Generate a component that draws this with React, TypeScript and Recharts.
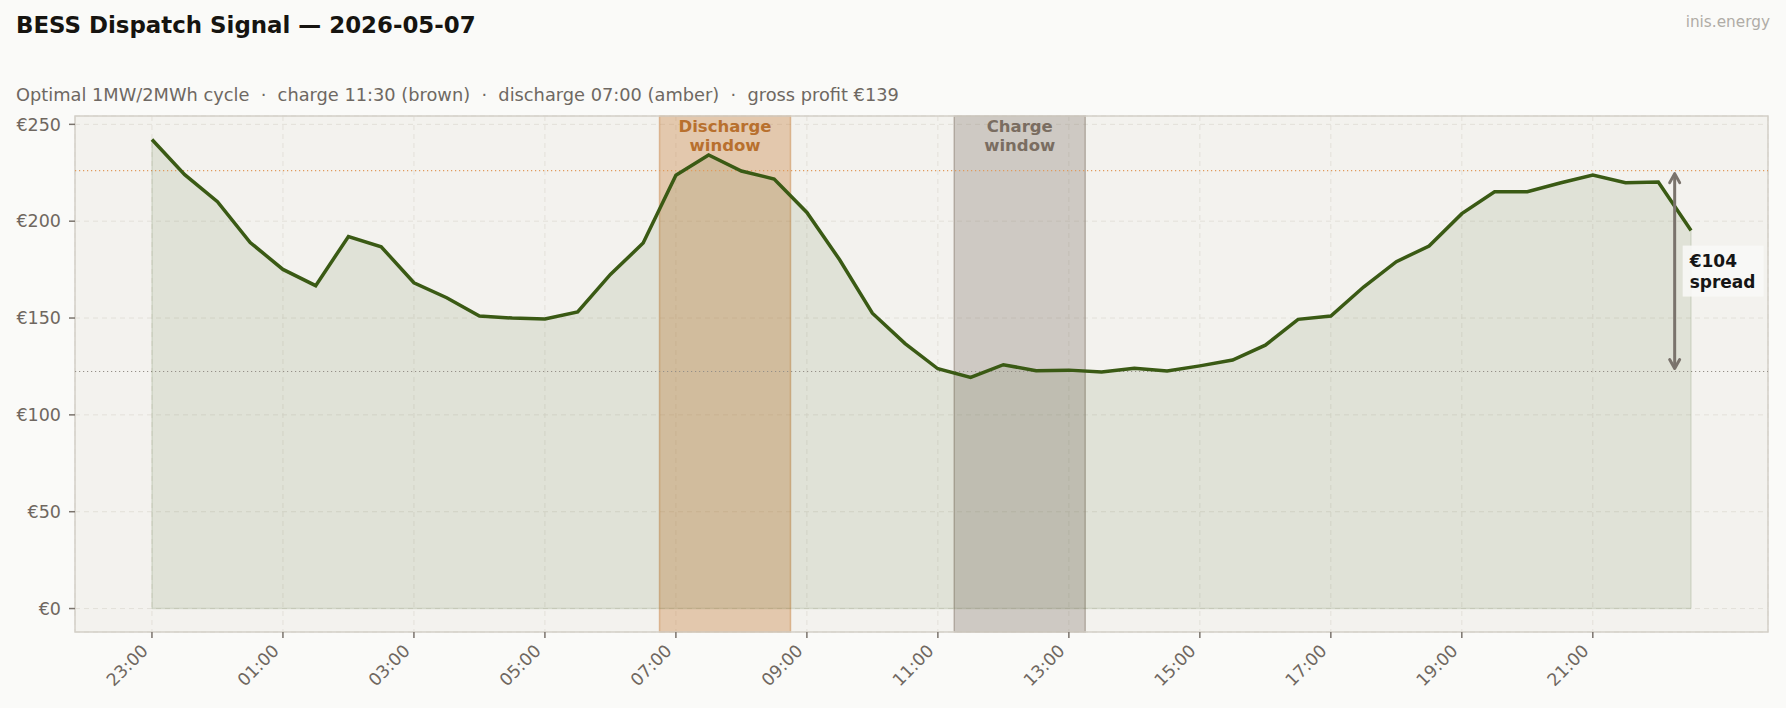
import React from 'react';
import {
  ComposedChart,
  Area,
  Line,
  XAxis,
  YAxis,
  CartesianGrid,
  ReferenceArea,
  ReferenceLine,
  ReferenceDot,
} from 'recharts';

// ---- data ----
const slots = [
  '23:00', '23:30', '00:00', '00:30', '01:00', '01:30', '02:00', '02:30',
  '03:00', '03:30', '04:00', '04:30', '05:00', '05:30', '06:00', '06:30',
  '07:00', '07:30', '08:00', '08:30', '09:00', '09:30', '10:00', '10:30',
  '11:00', '11:30', '12:00', '12:30', '13:00', '13:30', '14:00', '14:30',
  '15:00', '15:30', '16:00', '16:30', '17:00', '17:30', '18:00', '18:30',
  '19:00', '19:30', '20:00', '20:30', '21:00', '21:30', '22:00', '22:30',
];
const prices = [
  242.2, 224.0, 210.1, 189.0, 175.1, 166.7, 192.1, 186.8,
  168.2, 160.5, 151.0, 150.0, 149.5, 153.1, 172.5, 188.7,
  223.7, 234.2, 225.9, 221.8, 204.5, 180.1, 152.5, 136.8,
  123.8, 119.3, 125.9, 122.8, 123.1, 122.1, 124.1, 122.6,
  125.3, 128.3, 136.0, 149.3, 151.0, 166.0, 179.1, 187.2,
  203.9, 215.2, 215.2, 219.7, 223.8, 219.9, 220.2, 195.2,
];
const xTickLabels = ['23:00', '01:00', '03:00', '05:00', '07:00', '09:00', '11:00', '13:00', '15:00', '17:00', '19:00', '21:00'];
const yTicks = [0, 50, 100, 150, 200, 250];
const dischargeWindow = ['06:45', '08:45'];
const chargeWindow = ['11:15', '13:15'];
const dischargeAvg = 226.1;
const chargeAvg = 122.4;
const arrowAt = '22:15';
const spreadLines = ['€104', 'spread'];
const dischargeLines = ['Discharge', 'window'];
const chargeLines = ['Charge', 'window'];

const FONT = '"DejaVu Sans", sans-serif';

function toOffset(hhmm: string): number {
  const [h, m] = hhmm.split(':').map(Number);
  return ((h - 23 + 24) % 24) + m / 60;
}
function offsetLabel(v: number): string {
  const h = Math.round((23 + v) % 24);
  return `${String(h).padStart(2, '0')}:00`;
}

const data = slots.map((s, i) => ({ t: toOffset(s), price: prices[i] }));
const xTicks = xTickLabels.map(toOffset);
const X_DOMAIN: [number, number] = [-1.175, 24.675];
const Y_DOMAIN: [number, number] = [-12.11, 254.31];

const XTick = (props: any) => {
  const { x, y, payload } = props;
  const px = x - 3;
  const py = y + 12;
  return (
    <text
      x={px}
      y={py}
      transform={`rotate(-45 ${px} ${py})`}
      textAnchor="end"
      fill="#6f6760"
      fontSize={17.3}
      fontFamily={FONT}
    >
      {offsetLabel(payload.value)}
    </text>
  );
};

const windowLabel = (lines: string[], color: string) => (props: any) => {
  const vb = props.viewBox;
  if (!vb) return null;
  const cx = vb.x + vb.width / 2;
  return (
    <text textAnchor="middle" fontWeight="bold" fontSize={16.5} fill={color} fontFamily={FONT}>
      <tspan x={cx} y={vb.y + 15.5}>{lines[0]}</tspan>
      <tspan x={cx} y={vb.y + 35}>{lines[1]}</tspan>
    </text>
  );
};

const ArrowShape = (props: any) => {
  const { x1, y1, x2, y2 } = props;
  const x = x1;
  const top = Math.min(y1, y2) + 3;
  const bot = Math.max(y1, y2) - 3;
  const c = '#7a736c';
  return (
    <g>
      <line x1={x} y1={top + 1} x2={x} y2={bot - 1} stroke={c} strokeWidth={3} />
      <polyline points={`${x - 5},${top + 9} ${x},${top} ${x + 5},${top + 9}`} fill="none" stroke={c} strokeWidth={3} strokeLinecap="round" strokeLinejoin="round" />
      <polyline points={`${x - 5},${bot - 9} ${x},${bot} ${x + 5},${bot - 9}`} fill="none" stroke={c} strokeWidth={3} strokeLinecap="round" strokeLinejoin="round" />
    </g>
  );
};

const SpreadLabel = (props: any) => {
  const { cx, cy } = props;
  const x0 = cx + 8;
  return (
    <g>
      <rect x={x0} y={cy - 25.5} width={81} height={51} fill="#f8f8f6" fillOpacity={0.9} />
      <text fontWeight="bold" fontSize={17} fill="#151515" fontFamily={FONT}>
        <tspan x={x0 + 7} y={cy - 4}>{spreadLines[0]}</tspan>
        <tspan x={x0 + 7} y={cy + 17}>{spreadLines[1]}</tspan>
      </text>
    </g>
  );
};

export default function App() {
  const dx1 = toOffset(dischargeWindow[0]);
  const dx2 = toOffset(dischargeWindow[1]);
  const cx1 = toOffset(chargeWindow[0]);
  const cx2 = toOffset(chargeWindow[1]);
  const ax = toOffset(arrowAt);
  const first = data[0];
  const last = data[data.length - 1];
  return (
    <div
      style={{
        position: 'fixed',
        left: 0,
        top: 0,
        width: 1786,
        height: 708,
        background: '#fafaf8',
        fontFamily: FONT,
        overflow: 'hidden',
      }}
    >
      <div style={{ position: 'absolute', left: 16, top: 12, fontSize: 22.9, fontWeight: 'bold', color: '#161410', whiteSpace: 'nowrap' }}>
        BESS Dispatch Signal — 2026-05-07
      </div>
      <div style={{ position: 'absolute', right: 16, top: 13, fontSize: 15.3, color: '#b0aca6', whiteSpace: 'nowrap' }}>
        inis.energy
      </div>
      <div style={{ position: 'absolute', left: 16, top: 84, fontSize: 17.8, color: '#6e6862', whiteSpace: 'pre' }}>
        {'Optimal 1MW/2MWh cycle  ·  charge 11:30 (brown)  ·  discharge 07:00 (amber)  ·  gross profit €139'}
      </div>
      <div style={{ position: 'absolute', left: 0, top: 0 }}>
        <ComposedChart
          width={1786}
          height={708}
          data={data}
          margin={{ top: 116, right: 18, bottom: 6, left: 0 }}
        >
          <CartesianGrid fill="#f3f2ee" stroke="#e3e0d9" strokeDasharray="5 4" strokeWidth={1} />
          <XAxis
            type="number"
            dataKey="t"
            domain={X_DOMAIN}
            ticks={xTicks}
            allowDataOverflow
            height={70}
            axisLine={false}
            tickLine={{ stroke: '#7a736c', strokeWidth: 1.5 }}
            tickSize={6}
            tick={<XTick />}
            interval={0}
          />
          <YAxis
            type="number"
            domain={Y_DOMAIN}
            ticks={yTicks}
            allowDataOverflow
            width={75}
            axisLine={false}
            tickLine={{ stroke: '#7a736c', strokeWidth: 1.5 }}
            tickSize={6}
            tickMargin={8}
            tickFormatter={(v: number) => `€${v}`}
            tick={{ fill: '#6f6760', fontSize: 17.5, fontFamily: FONT }}
            interval={0}
          />
          <ReferenceArea
            x1={dx1}
            x2={dx2}
            fill="#c8803f"
            fillOpacity={0.37}
            stroke="#c8803f"
            strokeOpacity={0.45}
            strokeWidth={1.5}
            ifOverflow="visible"
            label={windowLabel(dischargeLines, '#b8702e')}
          />
          <ReferenceArea
            x1={cx1}
            x2={cx2}
            fill="#8a7e72"
            fillOpacity={0.35}
            stroke="#8a7e72"
            strokeOpacity={0.5}
            strokeWidth={1.5}
            ifOverflow="visible"
            label={windowLabel(chargeLines, '#7a6d61')}
          />
          <ReferenceLine y={dischargeAvg} stroke="#e09a5c" strokeWidth={1.2} strokeDasharray="1.2 2.8" />
          <ReferenceLine y={chargeAvg} stroke="#958f88" strokeWidth={1.2} strokeDasharray="1.2 2.8" />
          <Area
            type="linear"
            dataKey="price"
            baseValue={0}
            fill="#3d5c15"
            fillOpacity={0.1}
            stroke="none"
            isAnimationActive={false}
            dot={false}
            activeDot={false}
          />
          <ReferenceLine
            segment={[{ x: first.t, y: 0 }, { x: first.t, y: first.price }]}
            stroke="#3d5c15"
            strokeOpacity={0.12}
            strokeWidth={1.5}
          />
          <ReferenceLine
            segment={[{ x: last.t, y: 0 }, { x: last.t, y: last.price }]}
            stroke="#3d5c15"
            strokeOpacity={0.12}
            strokeWidth={1.5}
          />
          <ReferenceLine
            segment={[{ x: first.t, y: 0 }, { x: last.t, y: 0 }]}
            stroke="#3d5c15"
            strokeOpacity={0.12}
            strokeWidth={1.5}
          />
          <Line
            type="linear"
            dataKey="price"
            stroke="#3a5a14"
            strokeWidth={3.5}
            dot={false}
            activeDot={false}
            isAnimationActive={false}
          />
          <ReferenceLine
            segment={[{ x: ax, y: chargeAvg }, { x: ax, y: dischargeAvg }]}
            shape={ArrowShape}
            ifOverflow="visible"
          />
          <ReferenceDot
            x={ax}
            y={(dischargeAvg + chargeAvg) / 2}
            r={0}
            shape={SpreadLabel}
            ifOverflow="visible"
          />
          <ReferenceArea
            x1={X_DOMAIN[0]}
            x2={X_DOMAIN[1]}
            y1={Y_DOMAIN[0]}
            y2={Y_DOMAIN[1]}
            fill="none"
            stroke="#d3cfc8"
            strokeWidth={1.5}
            ifOverflow="visible"
          />
        </ComposedChart>
      </div>
    </div>
  );
}
